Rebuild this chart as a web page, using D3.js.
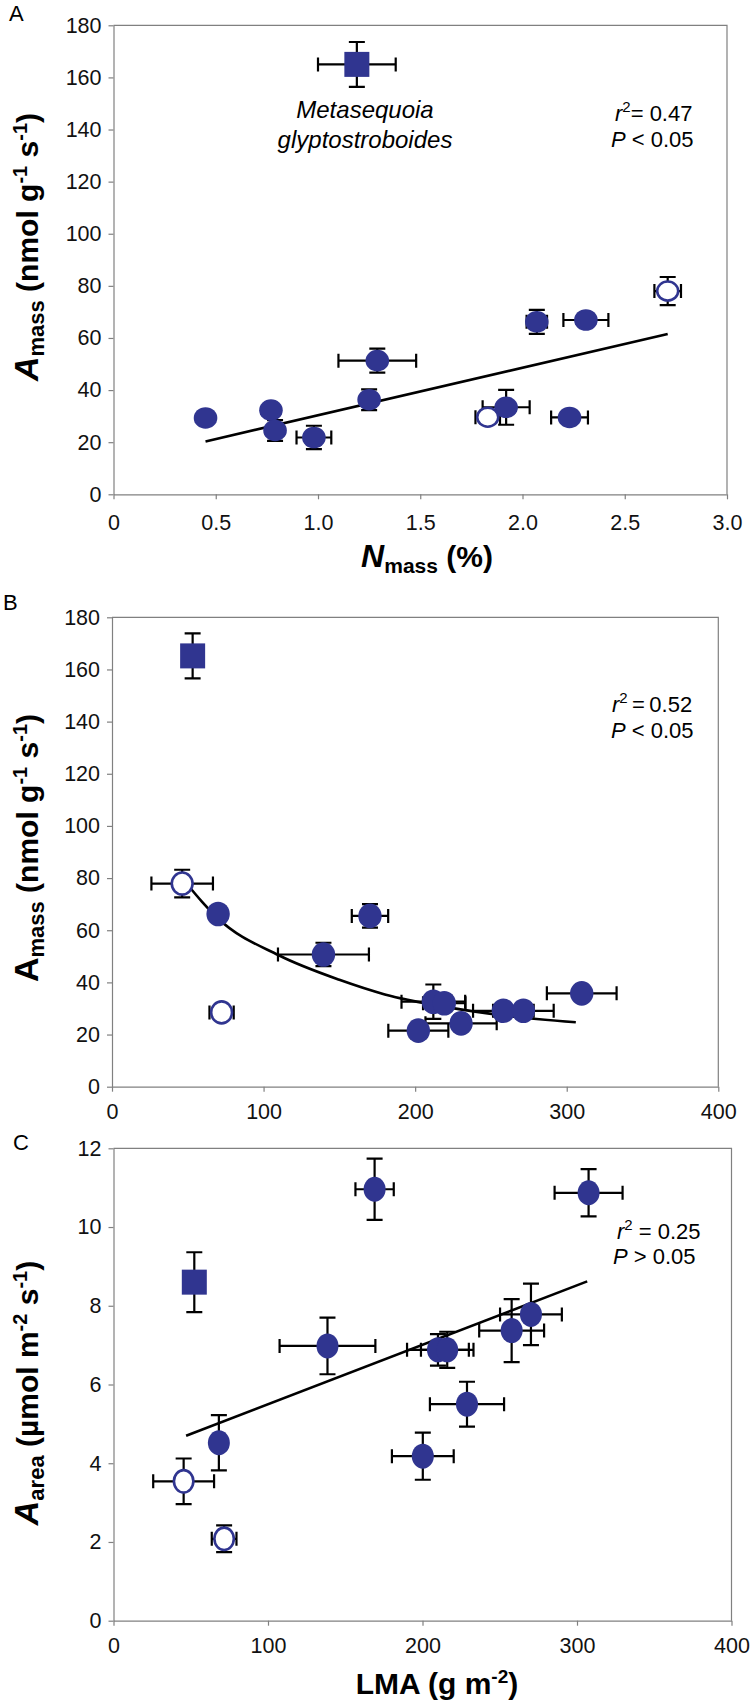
<!DOCTYPE html>
<html><head><meta charset="utf-8">
<script src="https://cdn.jsdelivr.net/npm/d3@7"></script>
<style>
body{margin:0;background:#fff}
svg{display:block}
text{font-family:"Liberation Sans",Arial,Helvetica,sans-serif}
</style>
</head><body>
<svg id="chart" width="753" height="1700"></svg>
<script>
// ---------- Panel A: Amass vs Nmass ----------
const nmassA    = [0.45, 0.77, 0.79, 0.98, 1.25, 1.29, 2.07, 2.31, 1.92, 2.23, 1.83, 2.71, 1.19];
const amassA    = [29.3, 32.3, 24.5, 21.8, 36.3, 51.3, 66.2, 66.9, 33.4, 29.5, 29.6, 78.0, 165.0];
const nmassErrA = [0, 0.02, 0.02, 0.085, 0.02, 0.19, 0.05, 0.11, 0.115, 0.09, 0.06, 0.065, 0.19];
const amassErrA = [0, 2, 4, 4.5, 4, 4.6, 4.6, 2, 6.7, 2, 2.5, 5.4, 8.6];
const markerA   = ["filled","filled","filled","filled","filled","filled","filled","filled","filled","filled","open","open","square"];
const fitA_x = [0.45, 2.71];
const fitA_y = [20.3, 61.5];
const xTicksA = [0, 0.5, 1.0, 1.5, 2.0, 2.5, 3.0];
const xTickLabelsA = ["0", "0.5", "1.0", "1.5", "2.0", "2.5", "3.0"];
const yTicksA = [0, 20, 40, 60, 80, 100, 120, 140, 160, 180];

// ---------- Panel B: Amass vs LMA ----------
const lmaB     = [53.2, 46.3, 70.0, 72.3, 170.2, 139.5, 212.0, 219.2, 202.1, 230.3, 258.2, 271.4, 309.9];
const amassB   = [165.2, 77.9, 66.2, 28.5, 65.5, 50.7, 32.6, 32.0, 21.5, 24.3, 29.1, 29.1, 35.8];
const lmaErrB  = [0, 20.3, 3, 8, 12, 30, 21, 14, 19.8, 23.5, 20, 20, 23];
const amassErrB= [8.6, 5.3, 3, 2, 4.5, 4.5, 6.6, 3, 3, 3, 2, 2, 2];
const markerB  = ["square","open","filled","open","filled","filled","filled","filled","filled","filled","filled","filled","filled"];
const fitB_x = [47, 59.3, 70, 110, 150, 180, 220, 260, 306];
const fitB_y = [79.5, 71, 64.5, 50.4, 41, 35.4, 30.6, 27.2, 24.7];
const xTicksB = [0, 100, 200, 300, 400];
const yTicksB = [0, 20, 40, 60, 80, 100, 120, 140, 160, 180];

// ---------- Panel C: Aarea vs LMA ----------
const lmaC     = [52.3, 169.0, 307.5, 138.5, 210.0, 216.0, 257.7, 270.2, 228.8, 200.2, 68.2, 45.4, 71.6];
const aareaC   = [8.6, 10.96, 10.87, 6.98, 6.88, 6.88, 7.37, 7.78, 5.5, 4.18, 4.52, 3.54, 2.08];
const lmaErrC  = [0, 12.4, 22, 31, 20, 17, 21, 20, 24, 20, 0, 19.7, 8];
const aareaErrC= [0.76, 0.78, 0.6, 0.72, 0.4, 0.46, 0.8, 0.78, 0.57, 0.6, 0.7, 0.58, 0.34];
const markerC  = ["square","filled","filled","filled","filled","filled","filled","filled","filled","filled","filled","open","open"];
const fitC_x = [47, 306.6];
const fitC_y = [4.7, 8.62];
const xTicksC = [0, 100, 200, 300, 400];
const yTicksC = [0, 2, 4, 6, 8, 10, 12];

// ---------- drawing ----------
const BLUE = "#303590";
const AXIS = "#808080";
const svg = d3.select("#chart");

function richText(parent, x, y, anchor, parts, rotate) {
  const t = parent.append("text")
    .attr("transform", `translate(${x},${y})` + (rotate ? ` rotate(${rotate})` : ""))
    .attr("text-anchor", anchor).attr("fill", "#000");
  let cur = 0;
  parts.forEach(p => {
    const shift = p.shift || 0;
    t.append("tspan")
      .attr("dy", shift - cur)
      .attr("font-size", p.size)
      .attr("font-weight", p.bold ? "bold" : "normal")
      .attr("font-style", p.italic ? "italic" : "normal")
      .attr("xml:space", "preserve")
      .text(p.t);
    cur = shift;
  });
  return t;
}

function drawPanel(p) {
  const g = svg.append("g");
  const x = d3.scaleLinear().domain(p.xDomain).range([p.left, p.right]);
  const y = d3.scaleLinear().domain(p.yDomain).range([p.bottom, p.top]);

  g.append("path")
    .attr("d", `M${p.left},${p.top}H${p.right}V${p.bottom}`)
    .attr("fill", "none").attr("stroke", AXIS).attr("stroke-width", 1.2);

  const xa = g.append("g").attr("transform", `translate(0,${p.bottom})`)
    .call(d3.axisBottom(x).tickValues(p.xTicks)
      .tickFormat((d, i) => p.xTickLabels ? p.xTickLabels[i] : d3.format("d")(d))
      .tickSize(5).tickSizeOuter(0).tickPadding(p.xPad));
  const ya = g.append("g").attr("transform", `translate(${p.left},0)`)
    .call(d3.axisLeft(y).tickValues(p.yTicks).tickFormat(d3.format("d"))
      .tickSize(5).tickSizeOuter(0).tickPadding(7));
  [xa, ya].forEach(a => {
    a.select(".domain").attr("stroke", AXIS).attr("stroke-width", 1.2);
    a.selectAll(".tick line").attr("stroke", AXIS).attr("stroke-width", 1.2);
    a.selectAll(".tick text").attr("font-size", 21.5).attr("fill", "#111")
      .attr("font-family", '"Liberation Sans",Arial,sans-serif');
  });

  // fit line / curve
  const fitPts = p.fitX.map((v, i) => [v, p.fitY[i]]);
  g.append("path").datum(fitPts)
    .attr("d", d3.line().x(d => x(d[0])).y(d => y(d[1])).curve(p.curve || d3.curveLinear))
    .attr("fill", "none").attr("stroke", "#000").attr("stroke-width", 2.6);

  // error bars
  const eb = g.append("g").attr("stroke", "#000").attr("stroke-width", 2.2).attr("fill", "none");
  p.xs.forEach((xv, i) => {
    const yv = p.ys[i], ex = p.xErr[i], ey = p.yErr[i];
    if (ex > 0) {
      const x0 = x(xv - ex), x1 = x(xv + ex), yy = y(yv);
      eb.append("path").attr("d",
        `M${x0},${yy}H${x1}M${x0},${yy - 7}V${yy + 7}M${x1},${yy - 7}V${yy + 7}`);
    }
    if (ey > 0) {
      const y0 = y(yv - ey), y1 = y(yv + ey), xx = x(xv);
      eb.append("path").attr("d",
        `M${xx},${y0}V${y1}M${xx - 8},${y0}H${xx + 8}M${xx - 8},${y1}H${xx + 8}`);
    }
  });

  // markers
  const mk = g.append("g");
  p.xs.forEach((xv, i) => {
    const cx = x(xv), cy = y(p.ys[i]), m = p.markers[i];
    if (m === "square") {
      mk.append("rect").attr("x", cx - 12.5).attr("y", cy - 12.5)
        .attr("width", 25).attr("height", 25).attr("fill", BLUE);
    } else if (m === "open") {
      mk.append("ellipse").attr("cx", cx).attr("cy", cy)
        .attr("rx", p.rx - 1.3).attr("ry", p.ry - 1.3)
        .attr("fill", "#fff").attr("stroke", BLUE).attr("stroke-width", 2.6);
    } else {
      mk.append("ellipse").attr("cx", cx).attr("cy", cy)
        .attr("rx", p.rx).attr("ry", p.ry).attr("fill", BLUE);
    }
  });
  return {x, y, g};
}

// Panel A
drawPanel({
  left: 113.5, right: 727, top: 25.3, bottom: 494.3,
  xDomain: [0, 3], yDomain: [0, 180],
  xTicks: xTicksA, xTickLabels: xTickLabelsA, yTicks: yTicksA, xPad: 15,
  xs: nmassA, ys: amassA, xErr: nmassErrA, yErr: amassErrA, markers: markerA,
  fitX: fitA_x, fitY: fitA_y, rx: 11.8, ry: 10.8
});
// Panel B
drawPanel({
  left: 112, right: 718.3, top: 617.3, bottom: 1086.7,
  xDomain: [0, 400], yDomain: [0, 180],
  xTicks: xTicksB, yTicks: yTicksB, xPad: 12,
  xs: lmaB, ys: amassB, xErr: lmaErrB, yErr: amassErrB, markers: markerB,
  fitX: fitB_x, fitY: fitB_y, curve: d3.curveMonotoneX, rx: 11.7, ry: 12.3
});
// Panel C
drawPanel({
  left: 113.5, right: 731.5, top: 1148.3, bottom: 1620.7,
  xDomain: [0, 400], yDomain: [0, 12],
  xTicks: xTicksC, yTicks: yTicksC, xPad: 12.5,
  xs: lmaC, ys: aareaC, xErr: lmaErrC, yErr: aareaErrC, markers: markerC,
  fitX: fitC_x, fitY: fitC_y, rx: 11, ry: 12.5
});

// Panel letters
[["A", 9, 21], ["B", 3, 610], ["C", 13, 1150]].forEach(([t, x, y]) =>
  svg.append("text").attr("x", x).attr("y", y).attr("font-size", 22).attr("fill", "#000").text(t));

// Y titles
const ytA = [
  {t: "A", size: 34, bold: true, italic: true},
  {t: "mass", size: 22, bold: true, shift: 6},
  {t: " (nmol g", size: 30, bold: true},
  {t: "-1", size: 20, bold: true, shift: -11},
  {t: " s", size: 30, bold: true},
  {t: "-1", size: 20, bold: true, shift: -11},
  {t: ")", size: 30, bold: true}
];
richText(svg, 38, 247, "middle", ytA, -90);
const ytB = ytA.map((d, i) => i === 0 ? Object.assign({}, d, {italic: false}) : d);
richText(svg, 38, 848, "middle", ytB, -90);
const ytC = [
  {t: "A", size: 34, bold: true, italic: true},
  {t: "area", size: 22, bold: true, shift: 6},
  {t: " (\u00B5mol m", size: 30, bold: true},
  {t: "-2", size: 20, bold: true, shift: -11},
  {t: " s", size: 30, bold: true},
  {t: "-1", size: 20, bold: true, shift: -11},
  {t: ")", size: 30, bold: true}
];
richText(svg, 38, 1393, "middle", ytC, -90);

// X titles
richText(svg, 427, 567, "middle", [
  {t: "N", size: 32, bold: true, italic: true},
  {t: "mass", size: 21, bold: true, shift: 6},
  {t: " (%)", size: 30, bold: true}
]);
richText(svg, 437, 1694, "middle", [
  {t: "LMA (g m", size: 30, bold: true},
  {t: "-2", size: 19, bold: true, shift: -11},
  {t: ")", size: 30, bold: true}
]);

// Annotations
svg.append("text").attr("x", 365).attr("y", 118).attr("text-anchor", "middle")
  .attr("font-size", 24).attr("font-style", "italic").text("Metasequoia");
svg.append("text").attr("x", 365).attr("y", 148).attr("text-anchor", "middle")
  .attr("font-size", 24).attr("font-style", "italic").text("glyptostroboides");

function stats(x, y, rtail, px, py, ptail) {
  richText(svg, x, y, "start", [
    {t: "r", size: 22, italic: true},
    {t: "2", size: 15, shift: -9},
    {t: rtail, size: 22}
  ]);
  richText(svg, px, py, "start", [
    {t: "P", size: 22, italic: true},
    {t: ptail, size: 22}
  ]);
}
stats(615, 121, "= 0.47", 611, 147, " < 0.05");
stats(612, 712, "\u2009=\u20090.52", 611, 737.5, " < 0.05");
stats(617, 1239, " = 0.25", 613, 1264, " > 0.05");
</script>
</body></html>
